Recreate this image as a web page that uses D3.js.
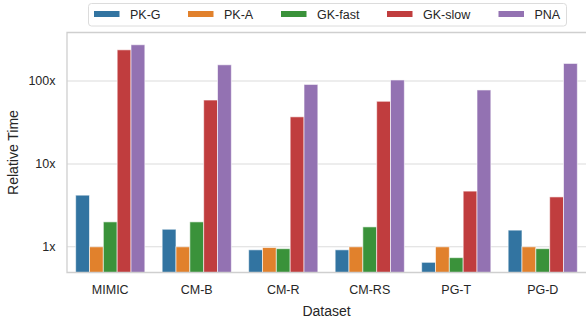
<!DOCTYPE html>
<meta charset="utf-8">
<style>
    body { margin: 0; background: #fff; }
    text { font-family: "Liberation Sans", Arial, sans-serif; fill: #262626; }
    .grid line { stroke: #dcdcdc; stroke-width: 1.1px; }
    .spine { stroke: #cfcfcf; stroke-width: 1.3px; fill: none; }
</style>
<svg id="svg" width="586" height="320"></svg>
<script src="https://d3js.org/d3.v7.min.js"></script>
<script>
var datasets = ["MIMIC", "CM-B", "CM-R", "CM-RS", "PG-T", "PG-D"];
var methods = ["PK-G", "PK-A", "GK-fast", "GK-slow", "PNA"];
var colors = ["#3274a1", "#e1812c", "#3a923a", "#c03d3e", "#9372b2"];

// relative time per dataset, one array per method
var pkG    = [4.2, 1.63, 0.92, 0.92, 0.65, 1.59];
var pkA    = [1.0, 1.0, 0.98, 1.0, 1.0, 1.0];
var gkFast = [2.0, 2.0, 0.95, 1.74, 0.74, 0.95];
var gkSlow = [238, 59, 37, 57, 4.7, 4.0];
var pna    = [274, 157, 91, 103, 78, 163];
var series = [pkG, pkA, gkFast, gkSlow, pna];

var yTicks = [1, 10, 100];

var svg = d3.select("#svg"),
    margin = {left: 67, right: 0, top: 32.5, bottom: 47.5},
    width = +svg.attr("width"),
    height = +svg.attr("height");

var x = d3.scaleBand()
    .domain(datasets)
    .range([margin.left, width - margin.right])
    .paddingInner(0.2).paddingOuter(0.1);

var xs = d3.scaleBand()
    .domain(methods)
    .range([0, x.bandwidth()]);

var y = d3.scaleLog()
    .domain([0.49, 385])
    .range([height - margin.bottom, margin.top]);

// grid
svg.append("g").attr("class", "grid")
  .selectAll("line").data(yTicks).enter().append("line")
    .attr("x1", margin.left).attr("x2", width)
    .attr("y1", function(d) { return y(d); })
    .attr("y2", function(d) { return y(d); });

// bars
var rows = [];
series.forEach(function(vals, i) {
  vals.forEach(function(v, j) {
    rows.push({ds: datasets[j], m: methods[i], c: colors[i], v: v});
  });
});

svg.append("g").selectAll("rect").data(rows).enter().append("rect")
    .attr("x", function(d) { return x(d.ds) + xs(d.m); })
    .attr("width", xs.bandwidth())
    .attr("y", function(d) { return y(d.v); })
    .attr("height", function(d) { return y.range()[0] - y(d.v); })
    .attr("fill", function(d) { return d.c; })
    .attr("stroke", "#fff")
    .attr("stroke-opacity", 0.6)
    .attr("stroke-width", 1);

// spines
svg.append("path").attr("class", "spine")
    .attr("d", "M" + width + "," + margin.top + "H" + margin.left +
               "V" + (height - margin.bottom) + "H" + width);

// y tick labels
svg.append("g").selectAll("text").data(yTicks).enter().append("text")
    .attr("x", 55.5)
    .attr("y", function(d) { return y(d); })
    .attr("dy", "0.35em")
    .attr("text-anchor", "end")
    .style("font-size", "12.5px")
    .text(function(d) { return d + "x"; });

// x tick labels
svg.append("g").selectAll("text").data(datasets).enter().append("text")
    .attr("x", function(d) { return x(d) + x.bandwidth() / 2; })
    .attr("y", 289.5)
    .attr("dy", "0.35em")
    .attr("text-anchor", "middle")
    .style("font-size", "12.5px")
    .text(function(d) { return d; });

svg.append("text")
    .attr("x", (margin.left + width) / 2)
    .attr("y", 311)
    .attr("dy", "0.35em")
    .attr("text-anchor", "middle")
    .style("font-size", "14px")
    .text("Dataset");

svg.append("text")
    .attr("transform", "translate(13.5," + ((margin.top + height - margin.bottom) / 2) + ") rotate(-90)")
    .attr("dy", "0.35em")
    .attr("text-anchor", "middle")
    .style("font-size", "14px")
    .text("Relative Time");

// legend
var legendX = [94, 188, 281, 387, 498.5];
var legend = svg.append("g");
legend.append("rect")
    .attr("x", 88.5).attr("y", 3.5)
    .attr("width", 478).attr("height", 22.5)
    .attr("rx", 3)
    .attr("fill", "#fff")
    .attr("stroke", "#dcdcdc");

var item = legend.selectAll("g").data(methods).enter().append("g")
    .attr("transform", function(d, i) { return "translate(" + legendX[i] + ",0)"; });
item.append("rect")
    .attr("y", 11).attr("width", 25.5).attr("height", 6)
    .attr("fill", function(d, i) { return colors[i]; });
item.append("text")
    .attr("x", 36).attr("y", 14.3)
    .attr("dy", "0.35em")
    .style("font-size", "12.5px")
    .text(function(d) { return d; });
</script>
